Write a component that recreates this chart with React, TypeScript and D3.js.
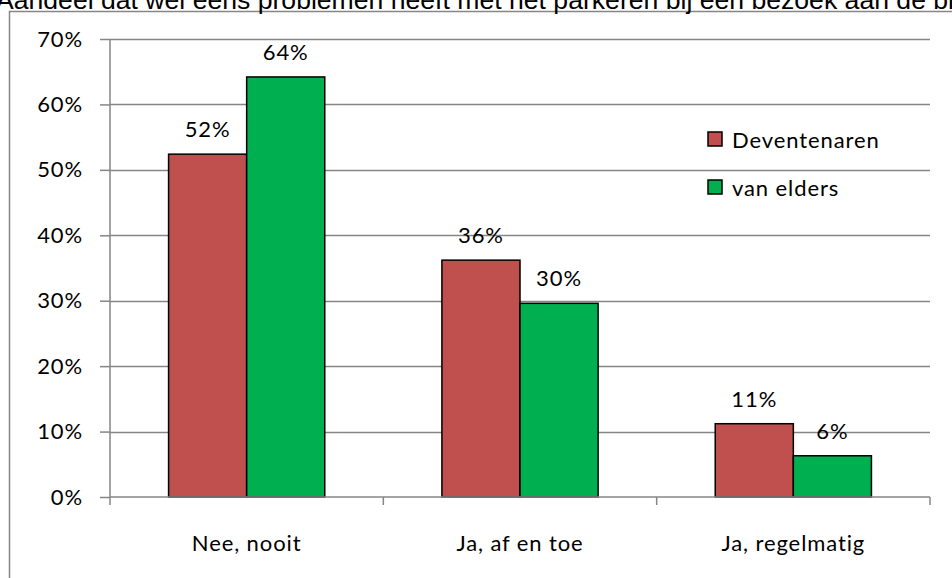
import { useEffect, useRef } from 'react';
import * as d3 from 'd3';

const TITLE = 'Aandeel dat wel eens problemen heeft met het parkeren bij een bezoek aan de binnenstad';
const CATEGORIES = ['Nee, nooit', 'Ja, af en toe', 'Ja, regelmatig'];
const SERIES = ['Deventenaren', 'van elders'];
const DEVENTENAREN = [52.4, 36.2, 11.2];
const VAN_ELDERS = [64.2, 29.6, 6.3];
const Y_TICKS = [0, 10, 20, 30, 40, 50, 60, 70];

const COLORS = ['#c0504d', '#00b050'];
const GRID = '#868686';
const FONT = 'Lato, "Open Sans", sans-serif';
const FS = 22;
const LS = 0.9;

export default function App() {
  const svgRef = useRef<SVGSVGElement>(null);
  const width = 952;
  const height = 578;

  useEffect(() => {
    if (!svgRef.current) return;
    const svg = d3.select(svgRef.current);
    svg.selectAll('*').remove();

    const margin = { left: 110, right: 22, top: 39, bottom: 81 };

    // outer chart frame (runs past the right and bottom edges)
    svg.append('rect')
      .attr('x', 9.5)
      .attr('y', 11.5)
      .attr('width', 980)
      .attr('height', 600)
      .attr('fill', '#fff')
      .attr('stroke', GRID)
      .attr('stroke-width', 1.5);

    // title, clipped at the top of the page
    svg.append('text')
      .attr('x', -4)
      .attr('y', 9)
      .attr('font-family', '"Liberation Sans", Arial, sans-serif')
      .attr('font-size', 26.6)
      .attr('fill', '#000')
      .text(TITLE);

    const x = d3.scaleBand<string>()
      .domain(CATEGORIES)
      .range([margin.left, width - margin.right])
      .paddingInner(0)
      .paddingOuter(0);

    const y = d3.scaleLinear()
      .domain([0, 70])
      .range([height - margin.bottom, margin.top]);

    // bar width as in Excel with gap width 150%
    const barW = x.bandwidth() / (SERIES.length + 1.5);

    // gridlines
    svg.append('g')
      .selectAll('line')
      .data(Y_TICKS.filter(t => t > 0))
      .enter()
      .append('line')
      .attr('x1', margin.left)
      .attr('x2', width - margin.right)
      .attr('y1', d => Math.round(y(d)) + 0.5)
      .attr('y2', d => Math.round(y(d)) + 0.5)
      .attr('stroke', GRID)
      .attr('stroke-width', 1.5);

    // y axis
    const yAxis = svg.append('g')
      .attr('transform', `translate(${margin.left},0)`)
      .call(d3.axisLeft(y).tickValues(Y_TICKS).tickSize(10).tickFormat(d => `${d}%`));
    yAxis.selectAll('path, line').attr('stroke', GRID).attr('stroke-width', 1.5);
    yAxis.select('.domain').attr('d', `M0,${y(70)}V${y(0)}`);
    yAxis.selectAll('text')
      .attr('font-family', FONT)
      .attr('font-size', FS)
      .attr('letter-spacing', LS)
      .attr('fill', '#000')
      .attr('x', -27);

    // bars
    const seriesData = [DEVENTENAREN, VAN_ELDERS];
    seriesData.forEach((vals, s) => {
      const g = svg.append('g');
      g.selectAll('rect')
        .data(vals)
        .enter()
        .append('rect')
        .attr('x', (_, i) => (x(CATEGORIES[i]) ?? 0) + x.bandwidth() / 2 - barW + s * barW)
        .attr('y', d => y(d))
        .attr('width', barW)
        .attr('height', d => y(0) - y(d))
        .attr('fill', COLORS[s])
        .attr('stroke', '#000')
        .attr('stroke-width', 1.5);

      g.selectAll('text')
        .data(vals)
        .enter()
        .append('text')
        .attr('x', (_, i) => (x(CATEGORIES[i]) ?? 0) + x.bandwidth() / 2 - barW + s * barW + barW / 2)
        .attr('y', d => y(d) - 17)
        .attr('text-anchor', 'middle')
        .attr('font-family', FONT)
        .attr('font-size', FS)
        .attr('letter-spacing', LS)
        .attr('fill', '#000')
        .text(d => `${Math.round(d)}%`);
    });

    // x axis
    const xAxis = svg.append('g')
      .attr('transform', `translate(0,${y(0)})`)
      .call(d3.axisBottom(x).tickSize(0).tickPadding(38));
    xAxis.select('.domain').attr('d', `M${margin.left},0H${width - margin.right}`)
      .attr('stroke', GRID).attr('stroke-width', 1.5);
    xAxis.selectAll('text')
      .attr('font-family', FONT)
      .attr('font-size', FS)
      .attr('letter-spacing', LS)
      .attr('fill', '#000');
    const bounds = [margin.left, ...CATEGORIES.map(c => (x(c) ?? 0) + x.bandwidth())];
    xAxis.append('g')
      .selectAll('line')
      .data(bounds)
      .enter()
      .append('line')
      .attr('x1', d => d)
      .attr('x2', d => d)
      .attr('y1', 0)
      .attr('y2', 8)
      .attr('stroke', GRID)
      .attr('stroke-width', 1.5);

    // legend
    const legend = svg.append('g').attr('transform', 'translate(708,132)');
    SERIES.forEach((name, i) => {
      const row = legend.append('g').attr('transform', `translate(0,${i * 48})`);
      row.append('rect')
        .attr('width', 14)
        .attr('height', 14)
        .attr('fill', COLORS[i])
        .attr('stroke', '#000')
        .attr('stroke-width', 1.5);
      row.append('text')
        .attr('x', 24)
        .attr('y', 16)
        .attr('font-family', FONT)
        .attr('font-size', FS)
        .attr('letter-spacing', LS)
        .attr('fill', '#000')
        .text(name);
    });
  }, []);

  return (
    <svg
      ref={svgRef}
      width={width}
      height={height}
      style={{ position: 'absolute', left: 0, top: 0, display: 'block' }}
    />
  );
}
